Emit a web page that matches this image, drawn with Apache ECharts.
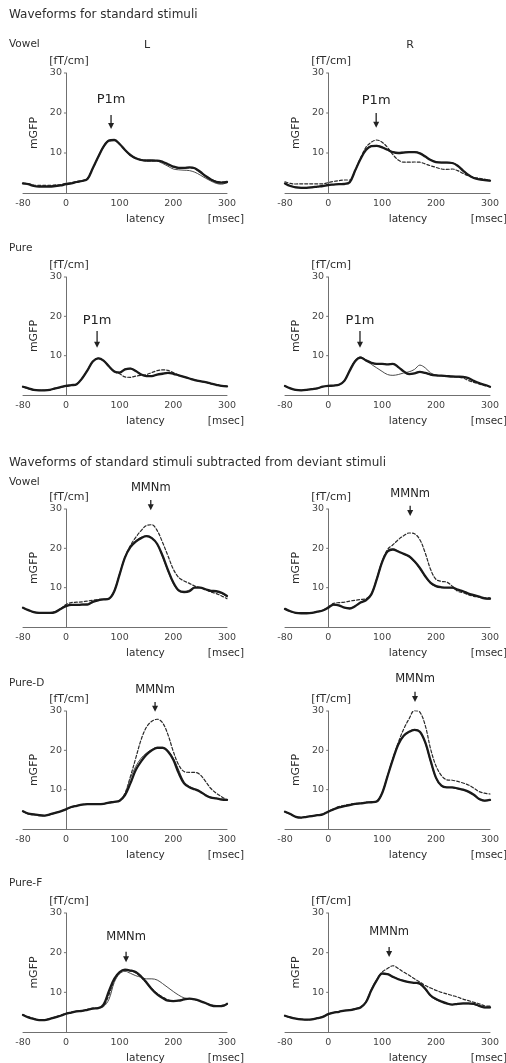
<!DOCTYPE html>
<html><head><meta charset="utf-8">
<script src="https://cdn.jsdelivr.net/npm/echarts@6/dist/echarts.min.js"></script>
<style>html,body{margin:0;padding:0;background:#fff}#c{width:506px;height:1063px}</style>
</head><body><div id="c"></div>
<script>
// ---------------- DATA ----------------
const LATENCY = [-80,-70,-60,-50,-40,-30,-20,-10,0,10,20,30,40,50,60,70,80,90,100,110,120,130,140,150,160,170,180,190,200,210,220,230,240,250,260,270,280,290,300];
const X_TICKS = [-80,0,100,200,300];
const Y_TICKS = [10,20,30];

// Waveforms for standard stimuli — Vowel
const STD_VOWEL_L_THICK  = [2.4,2.2,1.75,1.6,1.6,1.6,1.75,1.9,2.2,2.4,2.75,3.0,3.5,6.2,9.0,11.6,13.1,13.25,12.25,10.75,9.5,8.7,8.25,8.1,8.1,8.1,7.8,7.2,6.6,6.3,6.3,6.4,6.2,5.3,4.25,3.4,2.8,2.6,2.75];
const STD_VOWEL_L_THIN   = [2.3,2.1,1.8,1.7,1.7,1.7,1.8,2.0,2.2,2.4,2.7,3.0,3.6,6.3,9.1,11.7,13.2,13.3,12.3,10.8,9.5,8.8,8.4,8.3,8.3,8.0,7.4,6.7,6.0,5.8,5.7,5.6,5.2,4.5,3.7,3.0,2.4,2.2,2.6];
const STD_VOWEL_L_DASHED = [2.5,2.3,2.0,1.9,1.9,1.9,2.0,2.1,2.4,2.6,2.9,3.1,3.6,6.1,8.9,11.5,13.0,13.2,12.2,10.7,9.4,8.6,8.2,8.0,8.0,8.0,7.7,7.1,6.5,6.2,6.2,6.3,6.1,5.2,4.2,3.4,2.9,2.7,2.8];
const STD_VOWEL_R_THICK  = [2.4,1.75,1.4,1.3,1.3,1.4,1.6,1.75,2.0,2.1,2.2,2.25,2.7,5.6,8.5,10.75,11.7,11.8,11.4,10.8,10.2,10.0,10.1,10.2,10.2,9.9,9.1,8.25,7.7,7.6,7.6,7.5,6.8,5.6,4.5,3.75,3.4,3.25,3.1];
const STD_VOWEL_R_THIN   = [2.3,1.8,1.5,1.4,1.4,1.5,1.6,1.8,2.0,2.1,2.2,2.3,2.8,5.7,8.6,10.8,11.8,11.9,11.5,10.9,10.3,10.1,10.2,10.3,10.3,10.0,9.2,8.3,7.8,7.7,7.7,7.6,6.9,5.7,4.6,3.8,3.4,3.2,3.0];
const STD_VOWEL_R_DASHED = [2.8,2.4,2.25,2.3,2.3,2.3,2.3,2.3,2.6,2.9,3.1,3.25,3.25,5.6,8.75,11.4,12.7,13.25,12.7,11.4,9.6,8.25,7.7,7.7,7.75,7.7,7.25,6.8,6.4,6.0,5.9,6.0,5.6,4.9,4.3,3.9,3.7,3.4,3.1];
// Waveforms for standard stimuli — Pure
const STD_PURE_L_THICK  = [2.1,1.7,1.3,1.2,1.2,1.3,1.7,2.0,2.3,2.5,2.75,4.2,6.25,8.5,9.3,8.75,7.3,6.0,5.7,6.5,6.7,6.1,5.2,4.8,4.8,5.2,5.4,5.6,5.4,5.0,4.6,4.2,3.8,3.5,3.25,2.9,2.6,2.3,2.2];
const STD_PURE_L_THIN   = [2.0,1.6,1.3,1.2,1.2,1.3,1.6,1.9,2.2,2.5,2.8,4.3,6.4,8.6,9.4,8.8,7.4,6.1,5.8,6.6,6.8,6.2,5.3,4.9,4.9,5.2,5.5,5.6,5.4,5.0,4.6,4.2,3.8,3.5,3.2,2.9,2.6,2.3,2.2];
const STD_PURE_L_DASHED = [2.1,1.7,1.3,1.2,1.2,1.3,1.7,2.0,2.3,2.5,2.75,4.2,6.25,8.5,9.3,8.75,7.3,6.0,5.4,4.6,4.5,4.8,5.0,5.2,5.7,6.2,6.4,6.25,5.7,5.1,4.6,4.2,3.8,3.5,3.25,2.9,2.6,2.3,2.2];
const STD_PURE_R_THICK  = [2.3,1.7,1.3,1.2,1.3,1.5,1.7,2.1,2.3,2.4,2.6,3.6,6.2,8.6,9.5,8.8,8.2,7.9,7.9,7.8,7.9,7.1,6.0,5.3,5.5,5.9,5.6,5.2,5.0,4.9,4.8,4.7,4.65,4.6,4.3,3.6,3.0,2.6,2.1];
const STD_PURE_R_THIN   = [2.3,1.7,1.3,1.2,1.3,1.5,1.7,2.1,2.3,2.4,2.6,3.7,6.4,8.8,9.7,8.9,7.8,6.9,6.0,5.2,5.0,5.2,5.6,5.9,6.5,7.6,6.9,5.6,5.1,4.9,4.8,4.7,4.65,4.6,4.3,3.6,3.0,2.6,2.1];
const STD_PURE_R_DASHED = [2.3,1.7,1.3,1.2,1.3,1.5,1.7,2.1,2.3,2.4,2.6,3.6,6.2,8.6,9.5,8.8,8.2,7.9,7.9,7.8,7.9,7.1,6.0,5.3,5.5,5.9,5.6,5.2,5.0,4.9,4.8,4.7,4.5,4.3,3.7,3.2,2.8,2.4,2.1];
// Standard subtracted from deviant — Vowel
const SUB_VOWEL_L_THICK  = [4.9,4.3,3.8,3.6,3.6,3.6,3.8,4.6,5.3,5.6,5.6,5.7,5.7,6.4,6.8,7.0,7.2,9.1,13.4,17.7,20.3,21.7,22.6,23.1,22.6,21.1,18.1,14.5,11.3,9.3,8.9,9.1,10.0,10.0,9.6,9.2,9.1,8.7,7.9];
const SUB_VOWEL_L_THIN   = [4.8,4.2,3.7,3.5,3.5,3.6,3.9,4.7,5.3,5.5,5.6,5.8,5.9,6.5,6.9,7.1,7.3,9.3,13.6,17.9,20.5,21.9,22.8,23.2,22.7,21.0,17.8,14.2,11.0,9.2,9.0,9.4,10.1,10.0,9.5,9.1,8.9,8.5,7.7];
const SUB_VOWEL_L_DASHED = [4.9,4.3,3.8,3.6,3.6,3.6,3.8,4.6,5.7,6.2,6.3,6.4,6.6,6.8,7.0,7.0,7.2,9.1,13.4,17.7,20.7,22.8,24.5,25.8,26.0,24.5,21.5,18.1,14.7,12.6,11.7,11.1,10.4,10.0,9.6,8.9,8.5,7.9,7.2];
const SUB_VOWEL_R_THICK  = [4.6,4.0,3.6,3.5,3.5,3.6,3.9,4.2,4.9,5.7,5.5,4.9,4.7,5.3,6.2,6.8,8.3,12.1,16.5,19.2,19.7,19.2,18.6,18.0,16.7,15.0,12.9,11.2,10.4,10.1,10.0,10.0,9.5,9.1,8.5,8.1,7.7,7.3,7.2];
const SUB_VOWEL_R_THIN   = [4.5,3.9,3.6,3.5,3.5,3.6,3.9,4.3,5.0,5.6,5.4,5.0,4.8,5.4,6.3,6.9,8.5,12.4,16.8,19.4,19.8,19.3,18.5,17.8,16.5,14.8,12.7,11.0,10.3,10.1,10.0,9.9,9.4,9.0,8.4,8.0,7.6,7.2,7.0];
const SUB_VOWEL_R_DASHED = [4.6,4.0,3.6,3.5,3.5,3.6,3.9,4.2,5.1,6.0,6.2,6.3,6.6,6.8,7.0,7.2,8.3,12.1,16.5,19.7,20.9,22.2,23.2,23.9,23.7,22.2,18.8,14.6,12.1,11.6,11.4,10.4,9.1,8.7,8.2,7.8,7.6,7.4,7.4];
// Standard subtracted from deviant — Pure-D
const SUB_PURED_L_THICK  = [4.5,3.9,3.7,3.5,3.4,3.7,4.1,4.5,5.0,5.6,5.9,6.2,6.3,6.3,6.3,6.4,6.7,6.9,7.2,8.6,11.6,15.0,17.2,18.9,20.0,20.6,20.6,19.7,17.6,14.2,11.6,10.6,10.1,9.5,8.6,8.0,7.8,7.5,7.4];
const SUB_PURED_L_THIN   = [4.4,3.8,3.6,3.5,3.4,3.6,4.0,4.5,5.0,5.5,5.9,6.2,6.3,6.3,6.3,6.4,6.6,6.9,7.3,9.0,12.9,15.9,18.0,19.3,20.2,20.8,20.8,20.0,18.0,15.0,12.0,10.8,10.2,9.6,8.7,8.1,7.8,7.5,7.3];
const SUB_PURED_L_DASHED = [4.5,3.9,3.7,3.5,3.4,3.7,4.1,4.5,5.0,5.6,5.9,6.2,6.3,6.3,6.3,6.4,6.7,6.9,7.2,9.1,13.3,18.0,22.7,25.9,27.4,27.9,27.0,24.0,19.7,16.3,14.6,14.4,14.4,13.8,12.1,10.3,9.1,8.2,7.4];
const SUB_PURED_R_THICK  = [4.4,3.8,3.1,2.9,3.1,3.3,3.5,3.7,4.4,5.0,5.5,5.8,6.1,6.4,6.5,6.7,6.8,7.0,9.1,13.4,17.7,21.5,23.7,24.7,25.2,24.7,22.0,17.3,13.0,11.0,10.6,10.6,10.3,10.0,9.5,8.7,7.6,7.2,7.4];
const SUB_PURED_R_THIN   = [4.3,3.7,3.1,2.9,3.1,3.3,3.5,3.8,4.5,5.1,5.5,5.8,6.1,6.3,6.5,6.7,6.8,7.1,9.3,13.6,17.9,21.6,23.8,24.8,25.3,24.6,21.8,17.0,12.8,10.9,10.6,10.5,10.2,9.9,9.4,8.6,7.5,7.1,7.3];
const SUB_PURED_R_DASHED = [4.4,3.8,3.1,2.9,3.1,3.3,3.5,3.7,4.5,5.1,5.7,6.0,6.3,6.5,6.6,6.8,6.9,7.0,9.1,13.4,17.9,22.0,25.4,28.0,30.1,29.7,26.3,20.3,16.0,13.6,12.5,12.4,12.1,11.7,11.2,10.4,9.5,9.1,8.9];
// Standard subtracted from deviant — Pure-F
const SUB_PUREF_L_THICK  = [4.3,3.7,3.3,3.0,3.0,3.3,3.7,4.1,4.6,4.9,5.2,5.3,5.6,5.9,6.0,6.9,10.3,13.4,15.1,15.7,15.5,15.1,14.0,12.5,10.8,9.5,8.6,7.9,7.8,7.9,8.2,8.4,8.2,7.8,7.3,6.7,6.5,6.5,7.1];
const SUB_PUREF_L_THIN   = [4.3,3.7,3.3,3.0,3.0,3.3,3.7,4.1,4.6,4.9,5.2,5.3,5.6,5.9,6.0,6.4,8.2,12.5,14.7,15.3,14.8,14.2,13.8,13.4,13.4,13.1,12.2,11.2,10.2,9.3,8.6,8.4,8.2,7.8,7.3,6.8,6.6,6.6,6.9];
const SUB_PUREF_L_DASHED = [4.4,3.8,3.4,3.1,3.1,3.4,3.8,4.2,4.7,5.0,5.3,5.4,5.7,6.0,6.1,6.6,9.3,13.0,15.0,15.6,15.4,14.9,13.8,12.3,10.9,9.7,8.8,8.1,7.9,8.0,8.3,8.4,8.2,7.8,7.3,6.8,6.6,6.7,7.0];
const SUB_PUREF_R_THICK  = [4.1,3.7,3.4,3.2,3.1,3.2,3.5,3.8,4.5,4.9,5.1,5.4,5.5,5.8,6.2,7.5,10.5,13.0,14.7,14.6,13.9,13.3,12.9,12.6,12.4,12.2,10.9,9.2,8.3,7.7,7.2,6.9,7.1,7.2,7.2,7.1,6.6,6.2,6.2];
const SUB_PUREF_R_THIN   = [4.0,3.6,3.4,3.2,3.1,3.2,3.5,3.9,4.5,4.9,5.1,5.4,5.6,5.9,6.3,7.7,10.8,13.3,14.9,14.7,14.0,13.4,13.0,12.6,12.3,12.0,10.7,9.0,8.1,7.6,7.1,6.9,7.0,7.1,7.1,7.0,6.5,6.1,6.1];
const SUB_PUREF_R_DASHED = [4.1,3.7,3.4,3.2,3.1,3.2,3.5,3.8,4.5,4.9,5.1,5.4,5.5,5.8,6.2,7.5,10.5,13.0,15.1,16.0,16.7,16.0,15.1,14.3,13.4,12.6,11.7,11.1,10.5,10.0,9.6,9.2,8.8,8.3,7.9,7.5,7.1,6.6,6.5];

// Peak annotations (latency, label height, arrow top, arrow tip) in data units
const ANNOT_LABEL   = ['P1m','P1m','P1m','P1m','MMNm','MMNm','MMNm','MMNm','MMNm','MMNm'];
const ANNOT_LATENCY = [84,89,58,59,158,152,166,161,112,113];
const ANNOT_TEXT_Y  = [23.3,23.0,18.8,19.0,35.4,33.8,35.4,38.2,23.9,25.2];
const ANNOT_TOP     = [19.5,20.0,16.3,16.3,32.3,30.8,32.3,34.9,20.2,21.4];
const ANNOT_TIP     = [16.0,16.3,12.0,12.0,29.7,28.2,29.8,32.3,17.6,18.9];

// ---------------- LAYOUT / STYLE ----------------
const FONT = 'DejaVu Sans';
const GRID_ROWS = [[73,120],[277,118],[509,118],[711,118],[913,119]];
const GRID_COLS = [[23,204],[285,205]];
const AXIS_COLOR = '#707070';
const TEXT_COLOR = '#2e2e2e';

const PANELS = [
  [STD_VOWEL_L_THICK, STD_VOWEL_L_THIN, STD_VOWEL_L_DASHED],
  [STD_VOWEL_R_THICK, STD_VOWEL_R_THIN, STD_VOWEL_R_DASHED],
  [STD_PURE_L_THICK, STD_PURE_L_THIN, STD_PURE_L_DASHED],
  [STD_PURE_R_THICK, STD_PURE_R_THIN, STD_PURE_R_DASHED],
  [SUB_VOWEL_L_THICK, SUB_VOWEL_L_THIN, SUB_VOWEL_L_DASHED],
  [SUB_VOWEL_R_THICK, SUB_VOWEL_R_THIN, SUB_VOWEL_R_DASHED],
  [SUB_PURED_L_THICK, SUB_PURED_L_THIN, SUB_PURED_L_DASHED],
  [SUB_PURED_R_THICK, SUB_PURED_R_THIN, SUB_PURED_R_DASHED],
  [SUB_PUREF_L_THICK, SUB_PUREF_L_THIN, SUB_PUREF_L_DASHED],
  [SUB_PUREF_R_THICK, SUB_PUREF_R_THIN, SUB_PUREF_R_DASHED]
];
const LINE_STYLES = [
  {width: 2.3, color: '#1a1a1a', type: 'solid'},
  {width: 1.0, color: '#4a4a4a', type: 'solid'},
  {width: 1.2, color: '#2a2a2a', type: [3, 2]}
];
const DRAW_ORDER = [2, 1, 0];

const grids = [], xAxes = [], yAxes = [], series = [];
PANELS.forEach((p, i) => {
  const r = Math.floor(i / 2), c = i % 2;
  grids.push({left: GRID_COLS[c][0], width: GRID_COLS[c][1], top: GRID_ROWS[r][0], height: GRID_ROWS[r][1], containLabel: false});
  xAxes.push({
    type: 'value', gridIndex: i, min: -80, max: 300,
    axisLine: {onZero: true, lineStyle: {color: AXIS_COLOR, width: 1}},
    axisTick: {show: false}, splitLine: {show: false},
    axisLabel: {customValues: X_TICKS, fontFamily: FONT, fontSize: 9.5, color: '#444', margin: 6}
  });
  yAxes.push({
    type: 'value', gridIndex: i, min: 0, max: 30,
    name: '[fT/cm]', nameLocation: 'end', nameGap: 6,
    nameTextStyle: {fontFamily: FONT, fontSize: 11, color: TEXT_COLOR, padding: [0, 0, 0, 6]},
    axisLine: {show: true, onZero: true, lineStyle: {color: AXIS_COLOR, width: 1}},
    axisTick: {show: false},
    axisLabel: {show: false},
    splitLine: {show: false}
  });
  DRAW_ORDER.forEach(k => {
    const s = LINE_STYLES[k];
    series.push({
      type: 'line', xAxisIndex: i, yAxisIndex: i,
      data: LATENCY.map((x, j) => [x, p[k][j]]),
      showSymbol: false, smooth: 0.35, silent: true, z: 2 + (2 - k),
      lineStyle: {width: s.width, color: s.color, type: s.type, cap: 'round', join: 'round'}
    });
  });
});

const chart = echarts.init(document.getElementById('c'));
chart.setOption({
  backgroundColor: '#ffffff', animation: false,
  grid: grids, xAxis: xAxes, yAxis: yAxes, series: series
});

// ---------------- TEXT & ANNOTATIONS ----------------
const g = [];
function txt(text, x, y, size, align, extra, color) {
  g.push(Object.assign({
    type: 'text', x: x, y: y, silent: true,
    style: {text: text, font: size + 'px "' + FONT + '"', fill: color || TEXT_COLOR,
            align: align || 'left', textAlign: align || 'left',
            verticalAlign: 'middle', textVerticalAlign: 'middle'}
  }, extra || {}));
}
txt('Waveforms for standard stimuli', 9, 15, 12);
txt('Vowel', 9, 44, 10.5);
txt('L', 147, 45, 11, 'center');
txt('R', 410, 45, 11, 'center');
txt('Pure', 9, 248, 10.5);
txt('Waveforms of standard stimuli subtracted from deviant stimuli', 9, 463, 12);
txt('Vowel', 9, 482, 10.5);
txt('Pure-D', 9, 683, 10.5);
txt('Pure-F', 9, 883, 10.5);

PANELS.forEach((p, i) => {
  const f = {gridIndex: i};
  // y tick labels and small ticks placed beside the axis line at latency 0
  Y_TICKS.forEach(v => {
    const pt = chart.convertToPixel(f, [0, v]);
    txt(String(v), pt[0] - 4, pt[1], 9.5, 'right', null, '#444');
    g.push({type: 'line', silent: true, shape: {x1: pt[0] - 2, y1: pt[1], x2: pt[0], y2: pt[1]},
      style: {stroke: AXIS_COLOR, lineWidth: 1}});
  });
  const mid = chart.convertToPixel(f, [0, 15]);
  txt('mGFP', mid[0] - 32, mid[1], 11, 'center', {rotation: Math.PI / 2});
  const base = chart.convertToPixel(f, [0, 0]);
  const lat = chart.convertToPixel(f, [148, 0]);
  const ms = chart.convertToPixel(f, [298, 0]);
  txt('latency', lat[0], base[1] + 26, 10.5, 'center');
  txt('[msec]', ms[0], base[1] + 26, 10.5, 'center');
  // annotation
  const t = chart.convertToPixel(f, [ANNOT_LATENCY[i], ANNOT_TEXT_Y[i]]);
  const a0 = chart.convertToPixel(f, [ANNOT_LATENCY[i], ANNOT_TOP[i]]);
  const a1 = chart.convertToPixel(f, [ANNOT_LATENCY[i], ANNOT_TIP[i]]);
  const big = ANNOT_LABEL[i] === 'P1m';
  g.push({type: 'text', x: t[0], y: t[1], silent: true,
    style: {text: ANNOT_LABEL[i], font: (big ? 13 : 11.5) + 'px "' + FONT + '"', fill: '#222',
            align: 'center', textAlign: 'center', verticalAlign: 'middle', textVerticalAlign: 'middle'}});
  g.push({type: 'line', silent: true, shape: {x1: a0[0], y1: a0[1], x2: a1[0], y2: a1[1] - 5},
    style: {stroke: '#222', lineWidth: 1.3}});
  g.push({type: 'polygon', silent: true,
    shape: {points: [[a1[0] - 3, a1[1] - 6], [a1[0] + 3, a1[1] - 6], [a1[0], a1[1]]]},
    style: {fill: '#222'}});
});
chart.setOption({graphic: {elements: g}});
</script>
</body></html>
